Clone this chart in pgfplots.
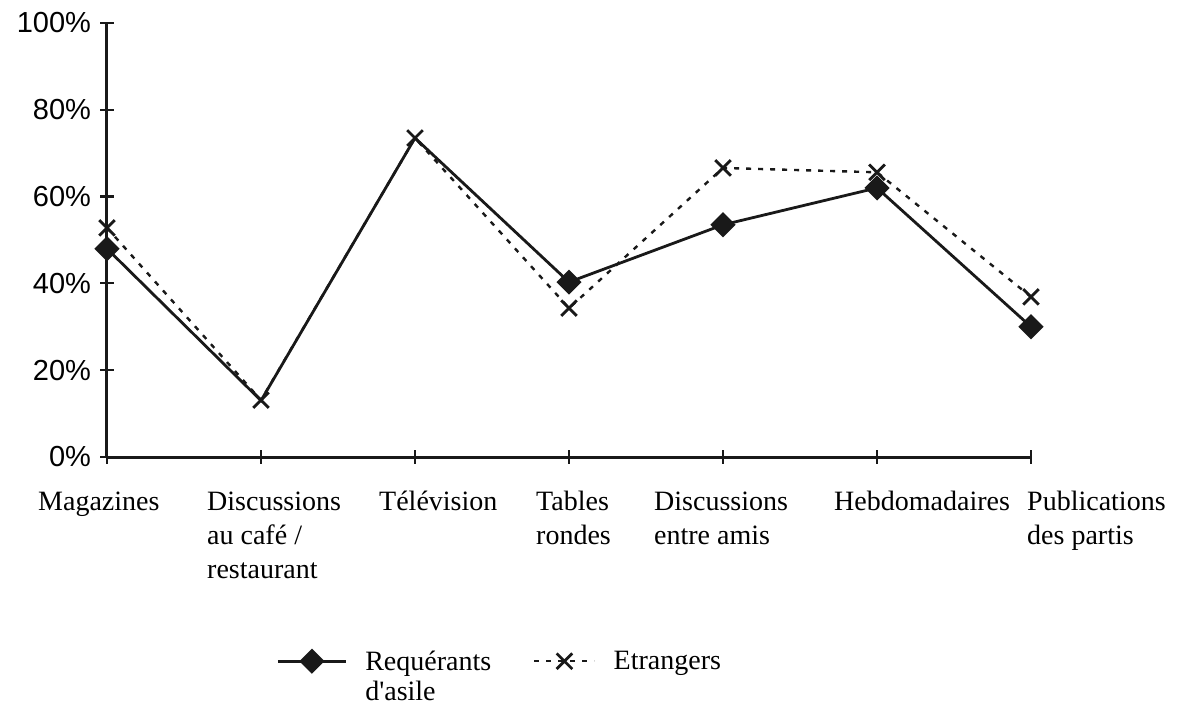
\documentclass[border=0pt]{standalone}
\usepackage{fontspec}
\setmainfont{Liberation Serif}
\newfontfamily\sansf{Liberation Sans}
\usepackage{pgfplots}
\pgfplotsset{compat=1.18}
\pgfplotsset{
 legA/.style={legend image code/.code={
   \draw[##1, mark indices={2}] plot coordinates {(0pt,0pt) (34pt,0pt) (68pt,0pt)};}},
 legB/.style={legend image code/.code={
   \draw[##1, mark indices={2}] plot coordinates {(0pt,0pt) (30pt,0pt) (60pt,0pt)};}},
}
\newcommand\lab[2]{\hspace*{#1pt}\begin{tabular}[t]{@{}l@{}}#2\end{tabular}}
\begin{document}
\begin{tikzpicture}
\begin{axis}[
 scale only axis, width=924pt, height=434pt,
 xmin=0, xmax=6, ymin=0, ymax=100,
 clip=false,
 axis lines=left,
 axis line style={-, line width=3pt, black!90},
 xtick={0,...,6}, ytick={0,20,...,100},
 tick align=center, major tick length=13pt,
 tick style={line width=2.2pt, black!90},
 yticklabels={0\%,20\%,40\%,60\%,80\%,100\%},
 yticklabel style={font=\sansf\fontsize{29}{34}\selectfont, xshift=-6pt},
 xticklabels={
  {\lab{-69}{Magazines}},
  {\lab{-54}{Discussions\\au café /\\restaurant}},
  {\lab{-36}{Télévision}},
  {\lab{-33}{Tables\\rondes}},
  {\lab{-69}{Discussions\\entre amis}},
  {\lab{-43}{Hebdomadaires}},
  {\lab{-4}{Publications\\des partis}}},
 xticklabel style={anchor=north west, inner sep=0pt, yshift=-23pt, font=\fontsize{28}{34}\selectfont},
 legend columns=2,
 legend style={draw=none, fill=none, at={(0.18,-0.435)}, anchor=north west,
   font=\fontsize{28}{30}\selectfont,
   /tikz/every odd column/.append style={column sep=16pt},
   /tikz/every even column/.append style={column sep=40pt},
   cells={anchor=west}},
]
\coordinate (O) at (rel axis cs:0,0);
\addplot[black!90, line width=2.8pt, mark=square*, mark size=7.5pt,
  mark options={rotate=45, solid}, mark indices={1,4,5,6,7}, legA]
 coordinates {(0,48) (1,13) (2,73.5) (3,40.3) (4,53.5) (5,62) (6,30)};
\addlegendentry{\begin{tabular}[t]{@{}l@{}}Requérants\\d\textquotesingle asile\end{tabular}}
\addplot[black!90, line width=2.4pt, dash pattern=on 5pt off 7pt, mark=x, mark size=11pt,
  mark options={solid, line width=2.8pt}, legB]
 coordinates {(0,52.8) (1,13.1) (2,73.5) (3,34.3) (4,66.6) (5,65.6) (6,36.9)};
\addlegendentry{Etrangers}
\end{axis}
\pgfresetboundingbox
\path[use as bounding box] (O) ++(-107pt,-249pt) rectangle ++(1188pt,706pt);
\end{tikzpicture}
\end{document}
